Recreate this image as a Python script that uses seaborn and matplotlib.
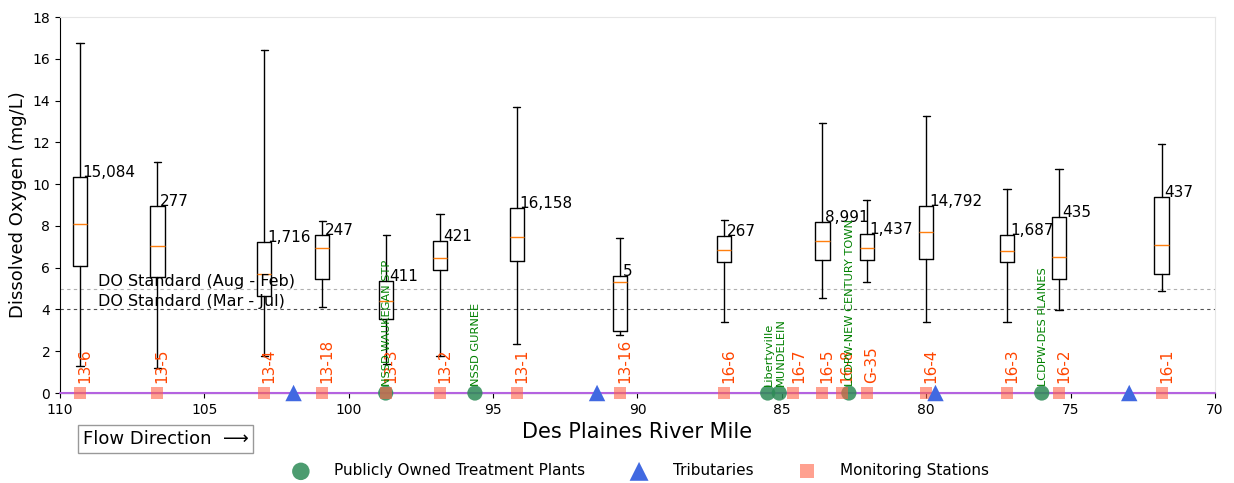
import matplotlib
matplotlib.use("Agg")
import matplotlib.pyplot as plt
import seaborn as sns
import pandas as pd

# ---------------- data ----------------
box_names = ["13-6", "13-5", "13-4", "13-18", "13-3", "13-2", "13-1", "13-16",
             "16-6", "16-5", "G-35", "16-4", "16-3", "16-2", "16-1"]
box_miles = [109.31, 106.63, 102.93, 100.92, 98.70, 96.84, 94.18, 90.61,
             87.00, 83.60, 82.06, 80.00, 77.20, 75.40, 71.85]
box_low = [1.31, 1.20, 1.79, 4.10, 1.39, 1.75, 2.33, 2.76, 3.41, 4.56, 5.30, 3.40, 3.40, 3.99, 4.88]
box_q1 = [6.10, 5.54, 4.63, 5.46, 3.56, 5.87, 6.32, 2.97, 6.29, 6.35, 6.35, 6.43, 6.25, 5.47, 5.71]
box_med = [8.09, 7.02, 5.70, 6.94, 4.42, 6.44, 7.45, 5.31, 6.87, 7.26, 6.96, 7.69, 6.78, 6.49, 7.10]
box_q3 = [10.34, 8.94, 7.24, 7.58, 5.38, 7.29, 8.84, 5.62, 7.52, 8.21, 7.59, 8.97, 7.56, 8.44, 9.40]
box_high = [16.74, 11.06, 16.44, 8.23, 7.56, 8.55, 13.69, 7.42, 8.28, 12.92, 9.25, 13.27, 9.77, 10.74, 11.93]
box_counts = [15084, 277, 1716, 247, 411, 421, 16158, 5, 267, 8991, 1437, 14792, 1687, 435, 437]

station_names = ["13-6", "13-5", "13-4", "13-18", "13-3", "13-2", "13-1", "13-16",
                 "16-6", "16-7", "16-5", "16-8", "G-35", "16-4", "16-3", "16-2", "16-1"]
station_miles = [109.31, 106.63, 102.93, 100.92, 98.70, 96.84, 94.18, 90.61,
                 87.00, 84.60, 83.60, 82.91, 82.06, 80.00, 77.20, 75.40, 71.85]

potw_names = ["NSSD WAUKEGAN STP", "NSSD GURNEE", "Libertyville", "MUNDELEIN",
              "LCDPW-NEW CENTURY TOWN", "LCDPW-DES PLAINES"]
potw_miles = [98.72, 95.63, 85.49, 85.09, 82.68, 76.00]

trib_miles = [101.91, 91.40, 79.68, 72.97]

do_standards = [5, 4]
do_labels = ["DO Standard (Aug - Feb)", "DO Standard (Mar - Jul)"]
do_colors = ["#b0b0b0", "#505050"]

x_ticks = [110, 105, 100, 95, 90, 85, 80, 75, 70]
y_ticks = [0, 2, 4, 6, 8, 10, 12, 14, 16, 18]

# ---------------- figure ----------------
sns.set_style("ticks")
plt.rcParams["font.family"] = ["DejaVu Sans"]
plt.rcParams["text.color"] = "black"
plt.rcParams["axes.labelcolor"] = "black"
plt.rcParams["xtick.color"] = "black"
plt.rcParams["ytick.color"] = "black"

fig, ax = plt.subplots(figsize=(12.34, 4.83), dpi=100)
fig.subplots_adjust(left=0.0486, right=0.9846, bottom=0.1863, top=0.9648)

# DO standards
for val, lab, col in zip(do_standards, do_labels, do_colors):
    ax.axhline(val, color=col, lw=0.8, ls=(0, (3, 3)), zorder=1)
    ax.text(108.7, val, lab, fontsize=11.5, ha="left", va="bottom", zorder=6)

# boxes
stats = []
for n, lo, q1, med, q3, hi in zip(box_names, box_low, box_q1, box_med, box_q3, box_high):
    stats.append(dict(label=n, whislo=lo, q1=q1, med=med, q3=q3, whishi=hi, fliers=[]))
ax.bxp(stats, positions=box_miles, widths=0.5, showfliers=False, manage_ticks=False,
       boxprops=dict(color="black", lw=1),
       whiskerprops=dict(color="black", lw=1),
       capprops=dict(color="black", lw=1),
       medianprops=dict(color="#ff7f0e", lw=1),
       zorder=3)

for m, q3, c in zip(box_miles, box_q3, box_counts):
    ax.text(m - 0.1, q3, f"{c:,}", fontsize=11, ha="left", va="baseline", zorder=6)

# baseline of the river (drawn over the bottom spine)
ax.axhline(0, color="#b463e0", lw=1.5, zorder=2.6, clip_on=False)

# markers
df_potw = pd.DataFrame({"mile": potw_miles, "y": [0] * len(potw_miles)})
df_trib = pd.DataFrame({"mile": trib_miles, "y": [0] * len(trib_miles)})
df_st = pd.DataFrame({"mile": station_miles, "y": [0] * len(station_miles)})

sns.scatterplot(data=df_potw, x="mile", y="y", ax=ax, marker="o", s=120,
                color="#2e8b57", alpha=0.85, edgecolor="none", clip_on=False,
                zorder=4, label="Publicly Owned Treatment Plants")
sns.scatterplot(data=df_st, x="mile", y="y", ax=ax, marker="s", s=75,
                color="#ff6347", alpha=0.6, edgecolor="none", clip_on=False,
                zorder=5, label="Monitoring Stations")
sns.scatterplot(data=df_trib, x="mile", y="y", ax=ax, marker="^", s=140,
                color="#4169e1", edgecolor="none", clip_on=False,
                zorder=6, label="Tributaries")

for n, m in zip(station_names, station_miles):
    ax.text(m - 0.17, 0.5, n, rotation=90, fontsize=11, color="#ff4500",
            ha="center", va="bottom", zorder=7)
for n, m in zip(potw_names, potw_miles):
    ax.text(m - 0.05, 0.35, n, rotation=90, fontsize=8.2, color="green",
            ha="center", va="bottom", zorder=7)

# axes
ax.set_xlim(110, 70)
ax.set_ylim(0, 18)
ax.set_xticks(x_ticks)
ax.set_yticks(y_ticks)
ax.tick_params(labelsize=10, length=3.5, width=0.8, colors="black")
ax.set_xlabel("Des Plaines River Mile", fontsize=15)
ax.set_ylabel("Dissolved Oxygen (mg/L)", fontsize=13)
for side in ["left", "bottom"]:
    ax.spines[side].set_color("black")
    ax.spines[side].set_linewidth(0.8)
for side in ["top", "right"]:
    ax.spines[side].set_color("#e6e6e6")
    ax.spines[side].set_linewidth(0.8)

# legend
h, l = ax.get_legend_handles_labels()
order = ["Publicly Owned Treatment Plants", "Tributaries", "Monitoring Stations"]
hd = dict(zip(l, h))
leg = ax.legend([hd[k] for k in order], order, loc="center", bbox_to_anchor=(0.5, -0.207),
                ncol=3, frameon=False, fontsize=11, columnspacing=2.5, handletextpad=1.2,
                markerscale=1.15)

# flow direction box
fig.text(83 / 1234, 1 - 439 / 483, "Flow Direction  \u27f6", fontsize=13, ha="left", va="center",
         bbox=dict(boxstyle="square,pad=0.25", facecolor="white", edgecolor="#999999", lw=1))

fig.savefig("out.png", dpi=100)
